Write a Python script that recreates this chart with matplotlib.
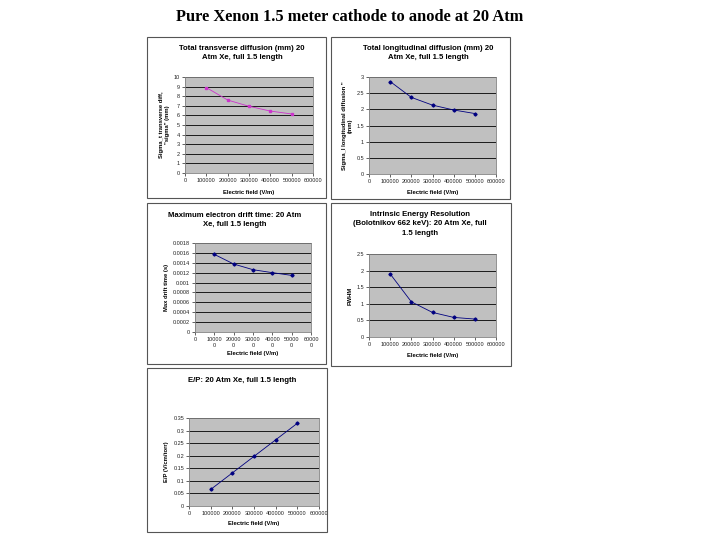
import matplotlib
matplotlib.use("Agg")
import matplotlib.pyplot as plt
from matplotlib.patches import Rectangle

plt.rcParams["font.family"] = ["Liberation Sans", "DejaVu Sans"]

W, H = 720, 540

# data
field = [100000, 200000, 300000, 400000, 500000]
transverse = [8.9, 7.6, 6.95, 6.45, 6.15]
longitudinal = [2.86, 2.37, 2.13, 1.98, 1.87]
drift_time = [0.00157, 0.001375, 0.00126, 0.0012, 0.001145]
fwhm = [1.9, 1.06, 0.74, 0.59, 0.54]
e_over_p = [0.0658, 0.1316, 0.1974, 0.2632, 0.329]

x_ticks = [0, 100000, 200000, 300000, 400000, 500000, 600000]
x_labels = ["0", "100000", "200000", "300000", "400000", "500000", "600000"]
x_labels_wrap = ["0", "10000\n0", "20000\n0", "30000\n0", "40000\n0", "50000\n0", "60000\n0"]


def fx(px):
    return px / W


def fy(py):
    return 1 - py / H


fig = plt.figure(figsize=(7.2, 5.4), dpi=100)
fig.patch.set_facecolor("white")

fig.text(fx(350), fy(17), "Pure Xenon 1.5 meter cathode to anode at 20 Atm",
         ha="center", va="center", fontsize=11.8, fontweight="bold",
         family="Liberation Serif")

# outer frames of the five chart objects
frames = [(147, 37, 326, 198), (331, 37, 510, 199), (147, 203, 326, 364),
          (331, 203, 511, 366), (147, 368, 327, 532)]
for l, t, r, b in frames:
    fig.patches.append(Rectangle((fx(l), fy(b)), fx(r) - fx(l), fy(t) - fy(b),
                                 transform=fig.transFigure, fill=False,
                                 edgecolor="#555555", linewidth=0.8))


def panel(box, y, ylim, ystep, color, marker, title, title_xy, ylabel, xlab_y,
          xlabels):
    l, t, r, b = box
    ax = fig.add_axes([fx(l), fy(b), fx(r) - fx(l), fy(t) - fy(b)])
    ax.set_facecolor("#c0c0c0")
    ax.plot(field, y, color=color, lw=0.6, marker=marker, ms=1.6,
            mfc=color, mec=color)
    ax.set_xlim(0, 600000)
    ax.set_ylim(*ylim)
    yt = []
    v = ylim[0]
    while v <= ylim[1] + ystep / 1000:
        yt.append(round(v, 6))
        v += ystep
    ax.set_yticks(yt)
    ax.set_yticklabels(["%g" % v for v in yt])
    ax.set_xticks(x_ticks)
    ax.set_xticklabels(xlabels)
    ax.yaxis.grid(True, color="black", lw=0.6)
    ax.set_axisbelow(True)
    ax.tick_params(labelsize=4, length=2, width=0.5, pad=1.5, colors="#222222")
    for s in ax.spines.values():
        s.set_color("#808080")
        s.set_linewidth(0.6)
    fig.text(fx(title_xy[0]), fy(title_xy[1]), title, ha="center", va="center",
             fontsize=5.6, fontweight="bold", linespacing=1.45)
    fig.text(fx((l + r) / 2), fy(xlab_y), "Electric field (V/m)", ha="center",
             va="center", fontsize=4.2, fontweight="bold")
    ax.set_ylabel(ylabel, fontsize=4.2, fontweight="bold", labelpad=3,
                  linespacing=1.2)
    return ax


panel((185, 77, 313, 173), transverse, (0, 10), 1, "#cc33cc", "s",
      "Total transverse diffusion (mm) 20\nAtm Xe, full 1.5 length", (242, 53),
      "Sigma_t transverse diff,\n\"sigma\" (mm)", 192, x_labels)

panel((369, 77, 496, 174), longitudinal, (0, 3), 0.5, "#000080", "D",
      "Total longitudinal diffusion (mm) 20\nAtm Xe, full 1.5 length", (428, 53),
      "Sigma_l longitudinal diffusion \"\n(mm)", 192, x_labels)

panel((195, 243, 311, 332), drift_time, (0, 0.0018), 0.0002, "#000080", "D",
      "Maximum electron drift time: 20 Atm\nXe, full 1.5 length", (235, 220),
      "Max drift time (s)", 354, x_labels_wrap)

panel((369, 254, 496, 337), fwhm, (0, 2.5), 0.5, "#000080", "D",
      "Intrinsic Energy Resolution\n(Bolotnikov 662 keV): 20 Atm Xe, full\n1.5 length",
      (420, 224), "FWHM", 355, x_labels)

panel((189, 418, 319, 506), e_over_p, (0, 0.35), 0.05, "#000080", "D",
      "E/P: 20 Atm Xe, full 1.5 length", (242, 380),
      "E/P (V/cm/torr)", 524, x_labels)

fig.savefig("out.png", dpi=100, facecolor="white")
